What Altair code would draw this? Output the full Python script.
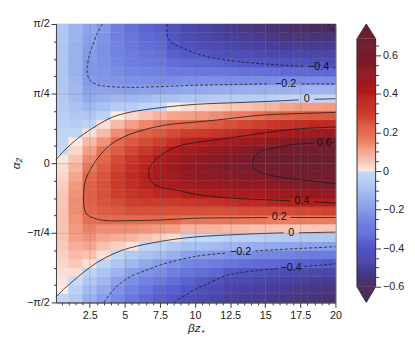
import altair as alt
import pandas as pd

# ---------------- grid (βz+ columns, α rows in units of π/4) ----------------
x_edges = [0.1, 1, 2, 3, 4, 5, 6, 7, 8, 9, 10, 11, 12, 13, 14, 15, 16, 17, 18, 19, 20]
alpha_edges = [-2.0, -1.875, -1.75, -1.625, -1.5, -1.375, -1.25, -1.125, -1.0, -0.875,
               -0.75, -0.625, -0.5, -0.375, -0.25, -0.125, 0.0, 0.125, 0.25, 0.375,
               0.5, 0.625, 0.75, 0.875, 1.0, 1.125, 1.25, 1.375, 1.5, 1.625, 1.75, 1.875, 2.0]

# field values per column (bottom α=-π/2 -> top α=π/2)
f_c00 = [-0.02, 0.00, 0.01, 0.02, 0.03, 0.04, 0.05, 0.055, 0.06, 0.06, 0.06, 0.055, 0.05, 0.04, 0.03, 0.02,
         0.01, -0.005, -0.02, -0.03, -0.04, -0.05, -0.06, -0.065, -0.07, -0.075, -0.08, -0.08, -0.08, -0.08, -0.075, -0.07]
f_c01 = [-0.06, -0.04, -0.005, 0.02, 0.05, 0.07, 0.09, 0.11, 0.12, 0.13, 0.14, 0.14, 0.13, 0.12, 0.10, 0.08,
         0.06, 0.03, 0.005, -0.02, -0.05, -0.07, -0.09, -0.11, -0.12, -0.13, -0.14, -0.14, -0.14, -0.14, -0.13, -0.13]
f_c02 = [-0.14, -0.11, -0.07, -0.03, 0.02, 0.06, 0.10, 0.13, 0.16, 0.19, 0.21, 0.22, 0.22, 0.22, 0.21, 0.18,
         0.15, 0.11, 0.07, 0.02, -0.03, -0.08, -0.12, -0.16, -0.18, -0.20, -0.21, -0.21, -0.20, -0.19, -0.18, -0.17]
f_c03 = [-0.19, -0.16, -0.12, -0.08, -0.03, 0.02, 0.06, 0.10, 0.14, 0.20, 0.23, 0.25, 0.26, 0.26, 0.25, 0.23,
         0.21, 0.19, 0.13, 0.07, 0.02, -0.04, -0.09, -0.14, -0.18, -0.21, -0.22, -0.23, -0.23, -0.23, -0.22, -0.21]
f_c04 = [-0.25, -0.22, -0.18, -0.13, -0.08, -0.02, 0.04, 0.09, 0.14, 0.20, 0.24, 0.27, 0.30, 0.31, 0.31, 0.29,
         0.27, 0.23, 0.20, 0.14, 0.07, 0.00, -0.06, -0.12, -0.18, -0.22, -0.24, -0.26, -0.27, -0.27, -0.28, -0.28]
f_c05 = [-0.30, -0.27, -0.23, -0.18, -0.12, -0.06, 0.01, 0.08, 0.14, 0.20, 0.26, 0.30, 0.33, 0.35, 0.36, 0.34,
         0.32, 0.28, 0.24, 0.19, 0.11, 0.03, -0.05, -0.12, -0.19, -0.23, -0.26, -0.28, -0.29, -0.30, -0.31, -0.32]
f_c06 = [-0.34, -0.31, -0.27, -0.22, -0.16, -0.09, -0.02, 0.06, 0.13, 0.20, 0.26, 0.31, 0.35, 0.38, 0.39, 0.38,
         0.36, 0.32, 0.27, 0.22, 0.15, 0.06, -0.03, -0.11, -0.18, -0.23, -0.27, -0.29, -0.31, -0.33, -0.34, -0.36]
f_c07 = [-0.38, -0.35, -0.29, -0.24, -0.19, -0.11, -0.04, 0.04, 0.12, 0.20, 0.26, 0.31, 0.37, 0.41, 0.44, 0.43,
         0.41, 0.36, 0.30, 0.24, 0.18, 0.08, -0.01, -0.09, -0.18, -0.24, -0.27, -0.30, -0.32, -0.34, -0.36, -0.38]
f_c08 = [-0.40, -0.37, -0.33, -0.28, -0.22, -0.14, -0.07, 0.02, 0.11, 0.20, 0.26, 0.31, 0.37, 0.42, 0.45, 0.47,
         0.45, 0.41, 0.34, 0.27, 0.20, 0.10, 0.00, -0.09, -0.17, -0.24, -0.29, -0.33, -0.37, -0.40, -0.41, -0.42]
f_c09 = [-0.43, -0.40, -0.36, -0.31, -0.26, -0.18, -0.10, -0.01, 0.08, 0.18, 0.26, 0.32, 0.40, 0.45, 0.49, 0.51,
         0.49, 0.45, 0.38, 0.30, 0.21, 0.11, 0.02, -0.07, -0.16, -0.23, -0.29, -0.34, -0.39, -0.42, -0.44, -0.46]
f_c10 = [-0.45, -0.43, -0.39, -0.33, -0.27, -0.19, -0.10, -0.01, 0.08, 0.18, 0.26, 0.33, 0.41, 0.47, 0.51, 0.53,
         0.52, 0.47, 0.40, 0.31, 0.22, 0.12, 0.03, -0.07, -0.16, -0.23, -0.30, -0.35, -0.40, -0.44, -0.46, -0.48]
f_c11 = [-0.47, -0.45, -0.42, -0.35, -0.29, -0.20, -0.11, -0.02, 0.08, 0.18, 0.26, 0.34, 0.42, 0.48, 0.52, 0.55,
         0.54, 0.49, 0.42, 0.33, 0.24, 0.14, 0.04, -0.06, -0.15, -0.23, -0.30, -0.36, -0.42, -0.45, -0.48, -0.50]
f_c12 = [-0.50, -0.48, -0.45, -0.39, -0.31, -0.22, -0.13, -0.03, 0.07, 0.18, 0.26, 0.35, 0.43, 0.49, 0.54, 0.58,
         0.57, 0.52, 0.44, 0.35, 0.26, 0.16, 0.05, -0.05, -0.15, -0.24, -0.31, -0.38, -0.43, -0.47, -0.50, -0.52]
f_c13 = [-0.51, -0.49, -0.46, -0.41, -0.33, -0.24, -0.14, -0.04, 0.07, 0.18, 0.27, 0.36, 0.43, 0.50, 0.55, 0.59,
         0.59, 0.55, 0.46, 0.37, 0.28, 0.17, 0.06, -0.05, -0.14, -0.24, -0.32, -0.39, -0.44, -0.48, -0.51, -0.54]
f_c14 = [-0.52, -0.50, -0.47, -0.42, -0.34, -0.25, -0.15, -0.04, 0.06, 0.18, 0.27, 0.36, 0.44, 0.50, 0.56, 0.61,
         0.62, 0.58, 0.48, 0.39, 0.30, 0.19, 0.07, -0.05, -0.14, -0.24, -0.32, -0.40, -0.45, -0.49, -0.52, -0.55]
f_c15 = [-0.53, -0.51, -0.48, -0.43, -0.35, -0.26, -0.16, -0.05, 0.06, 0.17, 0.27, 0.38, 0.45, 0.52, 0.58, 0.63,
         0.64, 0.61, 0.51, 0.41, 0.32, 0.21, 0.08, -0.04, -0.14, -0.24, -0.33, -0.41, -0.46, -0.50, -0.54, -0.57]
f_c16 = [-0.54, -0.52, -0.49, -0.44, -0.36, -0.27, -0.17, -0.06, 0.06, 0.17, 0.27, 0.39, 0.47, 0.55, 0.61, 0.65,
         0.66, 0.63, 0.55, 0.44, 0.34, 0.22, 0.10, -0.03, -0.14, -0.24, -0.34, -0.42, -0.47, -0.51, -0.55, -0.58]
f_c17 = [-0.55, -0.53, -0.50, -0.45, -0.37, -0.28, -0.17, -0.06, 0.05, 0.17, 0.28, 0.40, 0.48, 0.57, 0.62, 0.66,
         0.67, 0.64, 0.57, 0.46, 0.35, 0.23, 0.11, -0.02, -0.13, -0.24, -0.34, -0.42, -0.47, -0.51, -0.55, -0.59]
f_c18 = [-0.56, -0.54, -0.51, -0.46, -0.38, -0.29, -0.18, -0.07, 0.05, 0.17, 0.28, 0.40, 0.49, 0.58, 0.63, 0.67,
         0.68, 0.65, 0.58, 0.47, 0.36, 0.24, 0.11, -0.02, -0.13, -0.24, -0.35, -0.43, -0.47, -0.52, -0.56, -0.60]
f_c19 = [-0.57, -0.55, -0.52, -0.47, -0.395, -0.29, -0.19, -0.07, 0.05, 0.17, 0.29, 0.405, 0.49, 0.59, 0.64, 0.68,
         0.68, 0.65, 0.60, 0.48, 0.36, 0.24, 0.12, -0.01, -0.13, -0.24, -0.35, -0.43, -0.47, -0.52, -0.56, -0.60]

field_columns = [f_c00, f_c01, f_c02, f_c03, f_c04, f_c05, f_c06, f_c07, f_c08, f_c09,
                 f_c10, f_c11, f_c12, f_c13, f_c14, f_c15, f_c16, f_c17, f_c18, f_c19]

# ---------------- contour lines (x, α/(π/4)), split where labels sit ----------------
contour_p06 = [[(20.0, 0.315), (19.85, 0.305)],
               [(18.5, 0.29), (17.0, 0.268), (15.5, 0.215), (14.67, 0.17), (14.25, 0.09), (14.08, 0.01),
                (14.2, -0.07), (14.67, -0.13), (15.5, -0.18), (17.0, -0.225), (18.5, -0.26), (20.0, -0.293)]]
contour_p04 = [[(20.0, 0.52), (17.0, 0.488), (14.7, 0.428), (12.3, 0.358), (10.5, 0.31), (8.8, 0.245),
                (7.65, 0.126), (7.15, 0.04), (6.8, -0.05), (6.7, -0.15), (6.85, -0.25), (7.4, -0.335),
                (8.8, -0.39), (10.0, -0.445), (12.5, -0.5), (15.0, -0.525), (16.8, -0.54)],
               [(18.45, -0.555), (20.0, -0.572)]]
contour_p02 = [[(20.0, 0.73), (17.0, 0.71), (14.7, 0.69), (12.0, 0.63), (10.0, 0.59), (7.65, 0.54),
                (5.3, 0.41), (4.0, 0.27), (3.3, 0.13), (2.95, 0.04), (2.6, -0.07), (2.39, -0.15),
                (2.15, -0.28), (2.08, -0.4), (2.08, -0.6), (2.27, -0.73), (2.97, -0.80), (3.67, -0.825),
                (5.5, -0.825), (7.65, -0.815), (10.0, -0.79), (12.5, -0.785), (15.2, -0.78)],
               [(16.8, -0.78), (20.0, -0.78)]]
contour_z = [[(0.1, 0.05), (0.63, 0.17), (1.2, 0.28), (1.8, 0.38), (3.0, 0.54), (4.1, 0.66), (5.3, 0.73),
              (7.65, 0.80), (10.0, 0.845), (13.0, 0.87), (15.5, 0.89), (17.4, 0.91)],
             [(18.5, 0.918), (20.0, 0.926)],
             [(0.1, -1.92), (0.7, -1.8), (1.33, -1.69), (2.1, -1.56), (3.0, -1.43), (4.1, -1.31), (5.3, -1.22),
              (7.65, -1.12), (10.0, -1.06), (13.0, -1.025), (16.3, -1.0)],
             [(17.4, -1.0), (20.0, -0.99)]]
contour_m02 = [[(3.39, 2.0), (3.0, 1.85), (2.74, 1.71), (2.5, 1.58), (2.39, 1.47), (2.3, 1.36), (2.32, 1.29),
                (2.45, 1.21), (2.62, 1.17), (3.0, 1.13), (3.44, 1.11), (5.3, 1.09), (7.5, 1.10), (10.0, 1.12),
                (12.5, 1.13), (15.3, 1.14)],
               [(17.6, 1.14), (20.0, 1.14)],
               [(3.51, -2.0), (3.9, -1.89), (4.37, -1.78), (5.3, -1.64), (6.5, -1.54), (7.65, -1.455),
                (10.0, -1.34), (12.2, -1.29)],
               [(14.3, -1.26), (17.0, -1.23), (20.0, -1.2)]]
contour_m04 = [[(8.0, 2.0), (8.0, 1.88), (8.07, 1.8), (8.35, 1.73), (9.28, 1.64), (10.5, 1.55), (12.3, 1.48),
                (14.7, 1.43), (17.8, 1.39)],
               [(19.8, 1.372), (20.0, 1.37)],
               [(8.51, -2.0), (9.0, -1.93), (9.52, -1.87), (10.0, -1.81), (10.7, -1.75), (12.3, -1.61),
                (14.5, -1.54), (15.9, -1.515)],
               [(17.8, -1.485), (20.0, -1.445)]]
contour_m06 = [[(19.5, 2.0), (19.65, 1.95), (19.85, 1.905), (20.0, 1.885)]]

label_text = ["−0.4", "−0.2", "0", "0.6", "0.4", "0.2", "0", "−0.2", "−0.4"]
label_x = [18.8, 16.45, 17.95, 19.2, 17.62, 16.0, 16.85, 13.25, 16.85]
label_a = [1.38, 1.14, 0.915, 0.29, -0.548, -0.78, -1.0, -1.275, -1.5]

# ---------------- colour map ----------------
cmap_values = [-0.6, -0.5, -0.4, -0.3, -0.2, -0.1, -0.0001, 0.0, 0.1, 0.2, 0.3, 0.4, 0.5, 0.6, 0.686]
cmap_colors = ["#4a2c5e", "#48409c", "#5256c6", "#6a78de", "#859ae8", "#a7bff1", "#c8dbf7",
               "#fdebe4", "#f5a58d", "#e46a4e", "#cd3e2d", "#b21d1d", "#931a22", "#761c2d", "#6b1e31"]
cbar_min, cbar_max = -0.6, 0.686
cbar_lo_end, cbar_hi_end = -0.681, 0.763
cbar_ticks = [-0.6, -0.55, -0.5, -0.45, -0.4, -0.35, -0.3, -0.25, -0.2, -0.15, -0.1, -0.05, 0.0,
              0.05, 0.1, 0.15, 0.2, 0.25, 0.3, 0.35, 0.4, 0.45, 0.5, 0.55, 0.6, 0.65]

# ---------------- tables ----------------
cells = []
for j, col in enumerate(field_columns):
    for i, v in enumerate(col):
        cells.append({"x0": x_edges[j], "x1": x_edges[j + 1],
                      "a0": alpha_edges[i], "a1": alpha_edges[i + 1], "v": v})
cells = pd.DataFrame(cells)

line_rows = []
for level, segs in [(0.6, contour_p06), (0.4, contour_p04), (0.2, contour_p02), (0.0, contour_z),
                    (-0.2, contour_m02), (-0.4, contour_m04), (-0.6, contour_m06)]:
    for s, seg in enumerate(segs):
        for k, (x, a) in enumerate(seg):
            line_rows.append({"level": level, "seg": f"{level}_{s}", "k": k, "x": x, "a": a})
lines = pd.DataFrame(line_rows)
solid = lines[lines.level >= 0]
dashed = lines[lines.level < 0]
labels = pd.DataFrame({"t": label_text, "x": label_x, "a": label_a})

FONT = "Liberation Sans"
W, H = 285, 284
color_scale = alt.Scale(domain=cmap_values, range=cmap_colors, interpolate="rgb", clamp=True)
xscale = alt.Scale(domain=[0.1, 20], nice=False, zero=False)
yscale = alt.Scale(domain=[-2, 2], nice=False, zero=False)

x_ticks = [0.5 * i for i in range(1, 41)]
y_ticks = [-2 + 0.25 * i for i in range(17)]

x_axis = alt.Axis(
    values=x_ticks, title="βz₊", format="~g", labelFlush=False, labelOverlap=False,
    labelExpr="datum.value % 2.5 == 0 ? datum.label : ''",
    tickSize={"condition": {"test": "datum.value % 2.5 == 0", "value": 5}, "value": 2.5},
    grid=True, gridColor="#777777",
    gridOpacity={"condition": {"test": "datum.value % 2.5 == 0 && datum.value < 20", "value": 0.3}, "value": 0},
    zindex=1, titleFontStyle="italic", titlePadding=3, labelPadding=2,
)
y_axis = alt.Axis(
    values=y_ticks, title="α₂", labelOverlap=False,
    labelExpr="datum.value == 2 ? 'π/2' : datum.value == 1 ? 'π/4' : datum.value == 0 ? '0' : "
              "datum.value == -1 ? '−π/4' : datum.value == -2 ? '−π/2' : ''",
    tickSize={"condition": {"test": "datum.value % 1 == 0", "value": 5}, "value": 2.5},
    grid=True, gridColor="#777777",
    gridOpacity={"condition": {"test": "datum.value % 1 == 0 && abs(datum.value) < 2", "value": 0.3}, "value": 0},
    zindex=1, titleFontStyle="italic", titlePadding=4, labelPadding=2,
)


def X(field):
    return alt.X(field, type="quantitative", scale=xscale, axis=x_axis)


def Y(field):
    return alt.Y(field, type="quantitative", scale=yscale, axis=y_axis)


heat = alt.Chart(cells).mark_rect(strokeWidth=0.5).encode(
    x=X("x0"), x2="x1", y=Y("a0"), y2="a1",
    color=alt.Color("v:Q", scale=color_scale, legend=None),
    stroke=alt.Stroke("v:Q", scale=color_scale, legend=None),
)
solid_lines = alt.Chart(solid).mark_line(color="#1a1a1a", strokeWidth=0.8, interpolate="catmull-rom").encode(
    x=X("x"), y=Y("a"), detail="seg:N", order="k:Q")
dashed_lines = alt.Chart(dashed).mark_line(color="#1a1a1a", strokeWidth=0.8, strokeDash=[3, 2],
                                           interpolate="catmull-rom").encode(
    x=X("x"), y=Y("a"), detail="seg:N", order="k:Q")
label_marks = alt.Chart(labels).mark_text(font=FONT, fontSize=11, color="#111111",
                                          align="center", baseline="middle").encode(
    x=X("x"), y=Y("a"), text="t:N")

main = alt.layer(heat, solid_lines, dashed_lines, label_marks).properties(
    width=W, height=H, view=alt.ViewBackground(stroke="#404040", strokeWidth=1))

# ---------------- colour bar ----------------
step = 0.005
n = int(round((cbar_max - cbar_min) / step))
cb = pd.DataFrame({
    "lo": [cbar_min + step * i for i in range(n)],
    "hi": [min(cbar_min + step * (i + 1.5), cbar_max) for i in range(n)],
    "mid": [cbar_min + step * (i + 0.5) for i in range(n)],
    "l": 0.0, "r": 1.0,
})
tri = pd.DataFrame({
    "part": ["top"] * 3 + ["bot"] * 3,
    "tx": [0, 0.5, 1, 0, 0.5, 1],
    "ty": [cbar_max] * 3 + [cbar_min] * 3,
    "ty2": [cbar_max, cbar_hi_end, cbar_max, cbar_min, cbar_lo_end, cbar_min],
    "v": [cbar_max] * 3 + [cbar_min] * 3,
})
outline = pd.DataFrame({
    "k": list(range(7)),
    "ox": [0, 0.5, 1, 1, 0.5, 0, 0],
    "oy": [cbar_min, cbar_lo_end, cbar_min, cbar_max, cbar_hi_end, cbar_max, cbar_min],
})
cbx = alt.Scale(domain=[0, 1], nice=False, zero=False)
cby = alt.Scale(domain=[cbar_lo_end, cbar_hi_end], nice=False, zero=False)
cb_axis = alt.Axis(
    orient="right", values=cbar_ticks, title=None, format="~g", domain=False, grid=False,
    labelOverlap=False, labelFlush=False, labelPadding=2,
    labelExpr="abs(datum.value * 5 - round(datum.value * 5)) < 0.001 ? datum.label : ''",
    tickSize={"condition": {"test": "abs(datum.value * 5 - round(datum.value * 5)) < 0.001", "value": 5},
              "value": 3},
)
cb_rect = alt.Chart(cb).mark_rect(strokeWidth=0.3).encode(
    x=alt.X("l:Q", scale=cbx, axis=None), x2="r",
    y=alt.Y("lo:Q", scale=cby, axis=cb_axis), y2="hi",
    color=alt.Color("mid:Q", scale=color_scale, legend=None),
    stroke=alt.Stroke("mid:Q", scale=color_scale, legend=None),
)
cb_tri = alt.Chart(tri).mark_area(interpolate="linear").encode(
    x=alt.X("tx:Q", scale=cbx, axis=None),
    y=alt.Y("ty:Q", scale=cby, axis=cb_axis), y2="ty2",
    color=alt.Color("v:Q", scale=color_scale, legend=None),
    detail="part:N",
)
cb_out = alt.Chart(outline).mark_line(color="#333333", strokeWidth=1).encode(
    x=alt.X("ox:Q", scale=cbx, axis=None),
    y=alt.Y("oy:Q", scale=cby, axis=cb_axis), order="k:Q")
cbar = alt.layer(cb_rect, cb_tri, cb_out).properties(
    width=19, height=H, view=alt.ViewBackground(stroke="transparent"))

chart = alt.hconcat(main, cbar, spacing=12).properties(
    padding={"left": 1, "top": 6, "right": 2, "bottom": 0}
).configure_axis(
    labelFont=FONT, labelFontSize=11, labelColor="#1a1a1a",
    titleFont=FONT, titleFontSize=12, titleColor="#1a1a1a", titleFontWeight="normal",
    domainColor="#404040", tickColor="#333333", tickWidth=1,
).configure_view(stroke="#404040")

chart.save("out.html", embed_options={"renderer": "svg", "actions": False})
